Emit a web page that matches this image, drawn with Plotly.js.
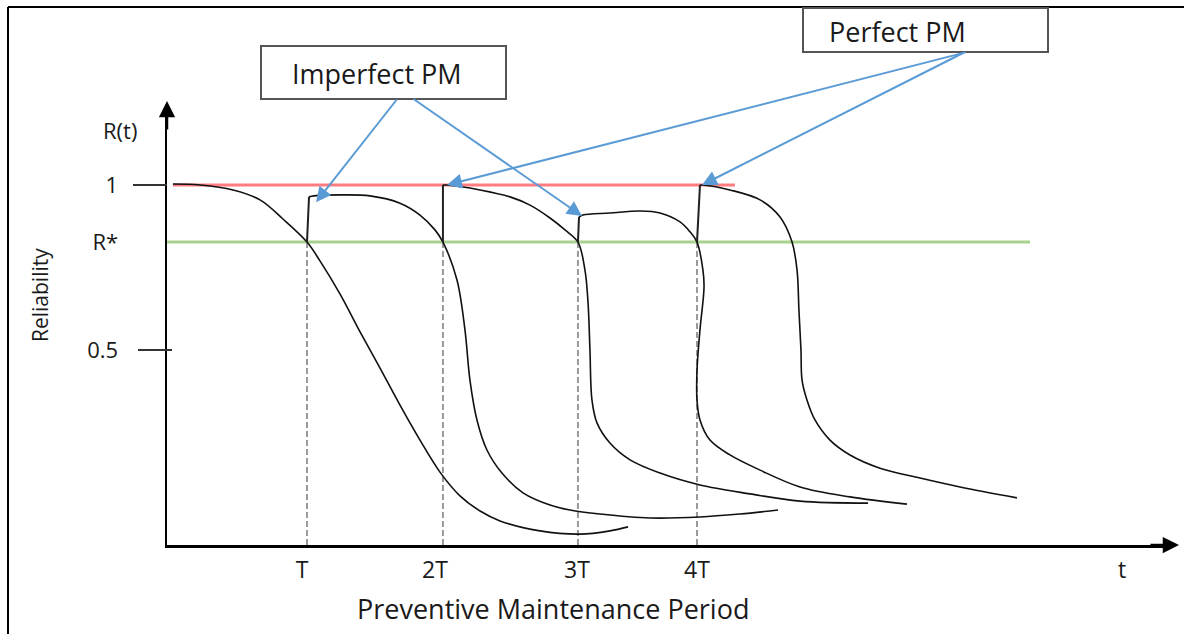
<!DOCTYPE html>
<html>
<head>
<meta charset="utf-8">
<script src="https://cdn.plot.ly/plotly-3.0.1.min.js"></script>
<style>html,body{margin:0;padding:0;background:#fff;}#chart{width:1184px;height:634px;}</style>
</head>
<body>
<div id="chart"></div>
<script>
// ---- values (time in units of ~T, reliability R) ----
const R_ONE = 1.0;
const R_STAR = 0.827;
const pmTimes = [1.037, 2.044, 3.044, 3.926];          // T, 2T, 3T, 4T (dashed lines)
const pmType  = ["Imperfect", "Perfect", "Imperfect", "Perfect"];
const xTickPos  = [1.0, 1.985, 3.037, 3.926, 7.074];
const xTickText = ["T", "2T", "3T", "4T", "t"];
const yTickVals = [1.0, 0.827, 0.5];
const yTickText = ["1", "R*", "0.5"];
const redLineT = [0.044, 4.207];
const greenLineT = [0.0, 6.393];

// initial curve
const curve1T = [0.044,0.244,0.489,0.689,0.859,1.037,1.133,1.281,1.430,1.578,1.726,1.874,2.022,2.170,2.319,2.467,2.763,3.059,3.281,3.415];
const curve1R = [1.003,1.000,0.985,0.955,0.897,0.827,0.770,0.670,0.555,0.445,0.333,0.227,0.130,0.058,0.012,-0.018,-0.048,-0.058,-0.048,-0.036];
// after imperfect PM at T
const jump2T = [1.037, 1.052];  const jump2R = [0.827, 0.964];
const curve2T = [1.052,1.089,1.281,1.504,1.726,1.874,1.985,2.044,2.148,2.207,2.244,2.296,2.370,2.481,2.637,2.837,2.985,3.207,3.578,3.948,4.244,4.526];
const curve2R = [0.964,0.967,0.970,0.967,0.945,0.909,0.864,0.827,0.712,0.561,0.409,0.288,0.197,0.127,0.067,0.030,0.015,0.003,-0.009,-0.006,0.003,0.015];
// after perfect PM at 2T
const jump3T = [2.044, 2.044];  const jump3R = [0.827, 1.000];
const curve3T = [2.044,2.074,2.319,2.541,2.689,2.837,2.948,3.044,3.096,3.119,3.133,3.148,3.185,3.281,3.430,3.652,3.948,4.319,4.689,5.193];
const curve3R = [1.000,1.000,0.985,0.964,0.939,0.900,0.864,0.827,0.742,0.642,0.500,0.348,0.279,0.218,0.167,0.127,0.091,0.064,0.042,0.036];
// after imperfect PM at 3T
const jump4T = [3.044, 3.052];  const jump4R = [0.827, 0.903];
const curve4T = [3.052,3.081,3.281,3.504,3.652,3.800,3.874,3.926,3.970,3.978,3.948,3.926,3.926,3.948,4.022,4.170,4.393,4.689,5.059,5.481];
const curve4R = [0.903,0.909,0.915,0.921,0.915,0.888,0.858,0.827,0.742,0.691,0.561,0.439,0.348,0.288,0.227,0.182,0.136,0.085,0.055,0.033];
// after perfect PM at 4T
const jump5T = [3.926, 3.948];  const jump5R = [0.827, 1.000];
const curve5T = [3.948,3.970,4.170,4.393,4.541,4.630,4.667,4.681,4.696,4.704,4.741,4.800,4.911,5.059,5.281,5.578,5.874,6.296];
const curve5R = [1.000,1.000,0.985,0.955,0.903,0.827,0.742,0.621,0.500,0.409,0.348,0.288,0.227,0.182,0.142,0.112,0.085,0.052];

// arrow targets (head positions) for the call-out boxes
const imperfectTargetsT = [1.104, 3.074];
const imperfectTargetsR = [0.948, 0.906];
const perfectTargetsT = [2.074, 3.963];
const perfectTargetsR = [1.000, 1.000];

const X_RANGE = [0, 7.4444];
const Y_RANGE = [-0.0909, 1.2212];

// ---- build ----
const BLACK = '#111111';
const traces = [];
traces.push({x: redLineT, y: [R_ONE, R_ONE], mode: 'lines', line: {color: '#FF7C80', width: 3}, hoverinfo: 'skip'});
traces.push({x: greenLineT, y: [R_STAR, R_STAR], mode: 'lines', line: {color: '#A9D18E', width: 3}, hoverinfo: 'skip'});
const dx = [], dy = [];
pmTimes.forEach(t => { dx.push(t, t, null); dy.push(Y_RANGE[0], R_STAR, null); });
traces.push({x: dx, y: dy, mode: 'lines', line: {color: '#9A9A9A', width: 2, dash: '6px,3px'}, hoverinfo: 'skip'});
const curves = [[curve1T, curve1R],[curve2T, curve2R],[curve3T, curve3R],[curve4T, curve4R],[curve5T, curve5R]];
curves.forEach(c => traces.push({x: c[0], y: c[1], mode: 'lines', line: {color: BLACK, width: 1.6, shape: 'spline', smoothing: 1}, hoverinfo: 'skip'}));
const jumps = [[jump2T, jump2R],[jump3T, jump3R],[jump4T, jump4R],[jump5T, jump5R]];
jumps.forEach(j => traces.push({x: j[0], y: j[1], mode: 'lines', line: {color: '#222', width: 2}, hoverinfo: 'skip'}));

// paper helpers for decorations outside the plot area
const L = 167, R = 1172, T = 112, B = 545;
const px = v => (v - L) / (R - L);
const py = v => (B - v) / (B - T);

const shapes = [
  // frame
  {type: 'line', xref: 'paper', yref: 'paper', x0: px(8), x1: px(1184), y0: py(7), y1: py(7), line: {color: '#000', width: 2}},
  {type: 'line', xref: 'paper', yref: 'paper', x0: px(8), x1: px(8), y0: py(7), y1: py(634), line: {color: '#000', width: 2}},
  // y tick marks
  {type: 'line', xref: 'paper', yref: 'y', x0: px(133), x1: px(167), y0: yTickVals[0], y1: yTickVals[0], line: {color: '#333', width: 2}},
  {type: 'line', xref: 'paper', yref: 'y', x0: px(138), x1: px(172), y0: yTickVals[2], y1: yTickVals[2], line: {color: '#333', width: 2}},
  // call-out boxes
  {type: 'rect', xref: 'paper', yref: 'paper', x0: px(261), x1: px(506), y0: py(99), y1: py(46), line: {color: '#555', width: 2}, fillcolor: '#fff'},
  {type: 'rect', xref: 'paper', yref: 'paper', x0: px(803), x1: px(1048), y0: py(52), y1: py(8), line: {color: '#555', width: 2}, fillcolor: '#fff'}
];

const BLUE = '#5B9BD5';
const FONT = 'Open Sans, sans-serif';
function label(text, x, y, size, extra) {
  return Object.assign({xref: 'paper', yref: 'paper', x: px(x), y: py(y), xanchor: 'center', yanchor: 'middle', text: text, showarrow: false, font: {family: FONT, size: size, color: '#1a1a1a'}}, extra || {});
}
const annotations = [
  label('Imperfect PM', 377, 73, 27),
  label('Perfect PM', 897, 32, 27),
  label('R(t)', 120, 130, 22),
  label('Reliability', 40, 295, 21, {textangle: -90}),
  label('Preventive Maintenance Period', 553, 608, 27),
  // axis arrowheads
  {xref: 'paper', yref: 'paper', x: px(167), y: py(101), text: '', showarrow: true, axref: 'pixel', ayref: 'pixel', ax: 0, ay: 30, arrowhead: 2, arrowsize: 1.3, arrowwidth: 2.5, arrowcolor: '#000', standoff: 0},
  {xref: 'paper', yref: 'paper', x: px(1179), y: py(545), text: '', showarrow: true, axref: 'pixel', ayref: 'pixel', ax: -30, ay: 0, arrowhead: 2, arrowsize: 1.3, arrowwidth: 2.5, arrowcolor: '#000', standoff: 0}
];
// blue call-out arrows
const imperfectTails = [[398, 98], [412, 98]];
const perfectTails = [[967, 52], [965, 52]];
function headPx(t, r) { return [L + (t - X_RANGE[0]) / (X_RANGE[1] - X_RANGE[0]) * (R - L), B - (r - Y_RANGE[0]) / (Y_RANGE[1] - Y_RANGE[0]) * (B - T)]; }
imperfectTargetsT.forEach((t, i) => {
  const h = headPx(t, imperfectTargetsR[i]);
  annotations.push({x: t, y: imperfectTargetsR[i], xref: 'x', yref: 'y', text: '', showarrow: true, ax: imperfectTails[i][0] - h[0], ay: imperfectTails[i][1] - h[1], arrowhead: 2, arrowsize: 1.5, arrowwidth: 2, arrowcolor: BLUE, standoff: 0});
});
perfectTargetsT.forEach((t, i) => {
  const h = headPx(t, perfectTargetsR[i]);
  annotations.push({x: t, y: perfectTargetsR[i], xref: 'x', yref: 'y', text: '', showarrow: true, ax: perfectTails[i][0] - h[0], ay: perfectTails[i][1] - h[1], arrowhead: 2, arrowsize: 1.5, arrowwidth: 2, arrowcolor: BLUE, standoff: 0});
});

const layout = {
  width: 1184, height: 634,
  margin: {l: L, r: 1184 - R, t: T, b: 634 - B, pad: 0},
  paper_bgcolor: '#fff', plot_bgcolor: '#fff',
  showlegend: false,
  font: {family: FONT, color: '#1a1a1a'},
  xaxis: {range: X_RANGE, showgrid: false, zeroline: false, showline: true, linecolor: '#000', linewidth: 2.5,
          ticks: '', tickvals: xTickPos, ticktext: xTickText, tickfont: {family: FONT, size: 23, color: '#1a1a1a'}, ticklabelstandoff: 3, fixedrange: true},
  yaxis: {range: Y_RANGE, showgrid: false, zeroline: false, showline: true, linecolor: '#000', linewidth: 2.5,
          ticks: '', tickvals: yTickVals, ticktext: yTickText, tickfont: {family: FONT, size: 22, color: '#1a1a1a'}, ticklabelstandoff: 42, fixedrange: true},
  shapes: shapes,
  annotations: annotations
};
Plotly.newPlot('chart', traces, layout, {staticPlot: true, displayModeBar: false});
</script>
</body>
</html>
